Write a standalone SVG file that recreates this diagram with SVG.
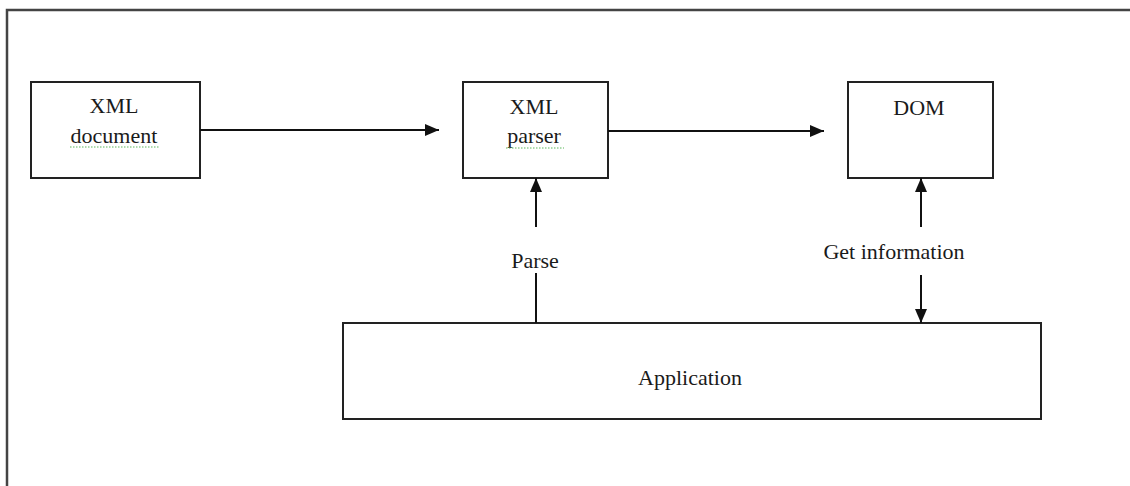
<svg xmlns="http://www.w3.org/2000/svg" width="1130" height="486" viewBox="0 0 1130 486">
  <defs>
    <style>
      .box { fill: #ffffff; stroke: #222; stroke-width: 2; }
      .lbl { font-family: "Liberation Serif", "Times New Roman", serif; font-size: 22px; fill: #1a1a1a; text-anchor: middle; }
      .conn { stroke: #111; stroke-width: 2; fill: none; }
      .squig { stroke: #5cb85c; stroke-width: 1.2; stroke-dasharray: 1.5 1.5; fill: none; }
    </style>
    <marker id="arrow" viewBox="0 0 14 12" refX="14" refY="6" markerWidth="14" markerHeight="12" markerUnits="userSpaceOnUse" orient="auto">
      <path d="M0,0 L14,6 L0,12 Z" fill="#111"/>
    </marker>
  </defs>
  <rect x="0" y="0" width="1130" height="486" fill="#ffffff"/>
  <g id="frame">
    <path d="M7,486 L7,10 L1130,10" fill="none" stroke="#444" stroke-width="2.5"/>
  </g>
  <g id="node-xml-document">
    <rect class="box" x="31" y="82" width="169" height="96"/>
    <text class="lbl" x="114" y="113">XML</text>
    <text class="lbl" x="114" y="143">document</text>
    <path class="squig" d="M70,147 L160,147"/>
  </g>
  <g id="node-xml-parser">
    <rect class="box" x="463" y="82" width="145" height="96"/>
    <text class="lbl" x="534" y="114">XML</text>
    <text class="lbl" x="534" y="143">parser</text>
    <path class="squig" d="M506,148 L564,148"/>
  </g>
  <g id="node-dom">
    <rect class="box" x="848" y="82" width="145" height="96"/>
    <text class="lbl" x="919" y="115">DOM</text>
  </g>
  <g id="node-application">
    <rect class="box" x="343" y="323" width="698" height="96"/>
    <text class="lbl" x="690" y="385">Application</text>
  </g>
  <g id="connectors">
    <line class="conn" x1="200" y1="130" x2="439" y2="130" marker-end="url(#arrow)"/>
    <line class="conn" x1="608" y1="131" x2="824" y2="131" marker-end="url(#arrow)"/>
    <line class="conn" x1="536" y1="323" x2="536" y2="273"/>
    <line class="conn" x1="536" y1="227" x2="536" y2="178" marker-end="url(#arrow)"/>
    <text class="lbl" x="535" y="268">Parse</text>
    <line class="conn" x1="921" y1="227" x2="921" y2="178" marker-end="url(#arrow)"/>
    <line class="conn" x1="921" y1="275" x2="921" y2="323" marker-end="url(#arrow)"/>
    <text class="lbl" x="894" y="259">Get information</text>
  </g>
</svg>
